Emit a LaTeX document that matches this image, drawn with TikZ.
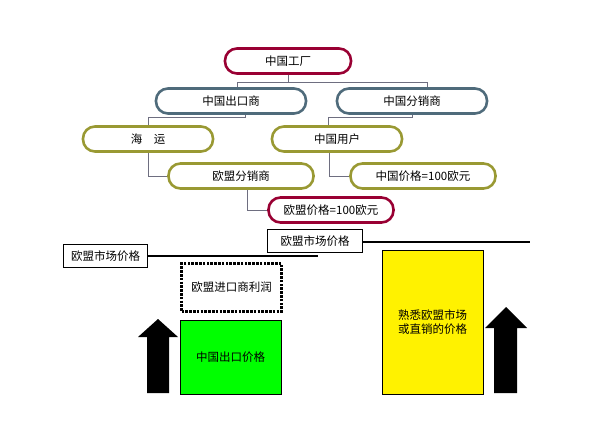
\documentclass[tikz,border=0pt]{standalone}
\usepackage{fontspec}
\setmainfont{Noto Sans CJK SC}
\usetikzlibrary{positioning, calc}
\definecolor{wine}{HTML}{990033}
\definecolor{slate}{HTML}{4F6B7B}
\definecolor{olive}{HTML}{999933}
\definecolor{wire}{HTML}{6E6E80}
\begin{document}
\begin{tikzpicture}[x=1pt, y=-1pt, font=\fontsize{11.5}{14}\selectfont,
      pill/.style={draw, line width=2.6pt, rounded corners=12pt, fill=white,
        minimum height=25pt, inner sep=0pt},
      redpill/.style={pill, draw=wine},
      bluepill/.style={pill, draw=slate, minimum width=150pt},
      greenpill/.style={pill, draw=olive},
      link/.style={draw=wire, line width=0.8pt},
      price/.style={draw, line width=0.8pt, minimum width=84pt, minimum height=23pt, inner sep=0pt},
      level/.style={line width=2.8pt},
      bar/.style={draw, line width=0.8pt, inner sep=0pt}]
    \useasboundingbox (0,0) rectangle (591,434);
    % tree
    \node[redpill, minimum width=126pt] (factory) at (288,61) {中国工厂};
    \node[bluepill] (exporter) at (231,101) {中国出口商};
    \node[bluepill] (dealer) at (412,101) {中国分销商};
    \node[greenpill, minimum width=130pt] (ship) at (148,139) {海\quad 运};
    \node[greenpill, minimum width=130pt] (user) at (337,139) {中国用户};
    \node[greenpill, minimum width=145pt] (eudealer) at (241,176) {欧盟分销商};
    \node[greenpill, minimum width=145pt] (cnprice) at (423,176) {中国价格=100欧元};
    \node[redpill, minimum width=125pt] (euprice) at (331,210) {欧盟价格=100欧元};
    \draw[link] (factory.south) -- ++(0,8) coordinate (fork);
    \draw[link] ([xshift=6pt]exporter.north) |- (fork) -| ([xshift=15pt]dealer.north);
    \draw[link] ([xshift=14pt]exporter.south) -- ++(0,3) -| (ship.north);
    \draw[link] (dealer.south) -- ++(0,3) -| ([xshift=-9pt]user.north);
    \draw[link] (ship.south) |- (eudealer.west);
    \draw[link] ([xshift=-8pt]user.south) |- (cnprice.west);
    \draw[link] ([xshift=6pt]eudealer.south) |- (euprice.west);
    % market prices
    \node[price, minimum width=95pt] (mkthigh) at (315,241) {欧盟市场价格};
    \node[price] (mktlow) at (105.5,256) {欧盟市场价格};
    \coordinate (highend) at (530,242);
    \coordinate (lowend) at (318,256);
    \draw[level] (mkthigh.east |- highend) -- (highend);
    \draw[level] (mktlow.east) -- (lowend);
    % boxes
    \node[draw, line width=3pt, dash pattern=on 2.6pt off 1.2pt, minimum width=100pt,
      minimum height=48pt, inner sep=0pt] (margin) at (231.5,287.5) {欧盟进口商利润};
    \node[bar, fill=green, minimum width=101pt, minimum height=74pt] (export) at (230.5,357) {中国出口价格};
    \node[bar, fill=yellow, minimum width=101pt, minimum height=144pt, align=center] (direct) at (432.5,322)
      {熟悉欧盟市场\\或直销的价格};
    % arrows
    \fill (147,393) -- (147,337) -- (138,337) -- (158,319) -- (178,337) -- (169,337) -- (169,393) -- cycle;
    \fill (494,393) -- (494,328) -- (485,328) -- (506,307) -- (527,328) -- (517,328) -- (517,393) -- cycle;
\end{tikzpicture}
\end{document}
